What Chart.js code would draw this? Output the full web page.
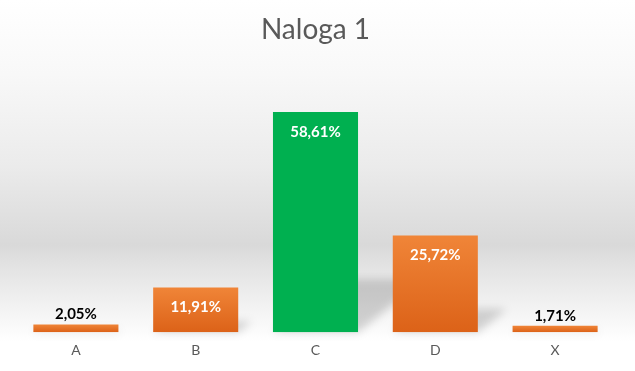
<!DOCTYPE html>
<html>
<head>
<meta charset="utf-8">
<script src="https://cdn.jsdelivr.net/npm/chart.js@4/dist/chart.umd.min.js"></script>
<style>
html,body{margin:0;padding:0;background:#fff;}
#wrap{width:635px;height:371px;position:relative;}
</style>
</head>
<body>
<div id="wrap"><canvas id="c" width="635" height="371"></canvas></div>
<script>
const chartTitle = "Naloga 1";
const categories = ["A", "B", "C", "D", "X"];
const values = [2.05, 11.91, 58.61, 25.72, 1.71];
const highlightIndex = 2;

const bgPlugin = {
  id: 'bg',
  beforeDraw(chart) {
    const ctx = chart.ctx, w = chart.width, h = chart.height;
    const g = ctx.createLinearGradient(0, 0, 0, h);
    g.addColorStop(0, '#ffffff');
    g.addColorStop(0.2, '#f8f8f8');
    g.addColorStop(0.45, '#ebebeb');
    g.addColorStop(0.66, '#d9d9d9');
    g.addColorStop(0.72, '#e3e3e3');
    g.addColorStop(0.84, '#f4f4f4');
    g.addColorStop(0.92, '#ffffff');
    g.addColorStop(1, '#ffffff');
    ctx.save();
    ctx.fillStyle = g;
    ctx.fillRect(0, 0, w, h);
    ctx.restore();
  }
};

const shadowPlugin = {
  id: 'barShadow',
  beforeDatasetsDraw(chart) {
    const ctx = chart.ctx;
    const meta = chart.getDatasetMeta(0);
    ctx.save();
    ctx.filter = 'blur(4px)';
    meta.data.forEach(el => {
      const p = el.getProps(['x', 'y', 'base', 'width'], true);
      const h = p.base - p.y;
      const xl = p.x - p.width / 2, xr = p.x + p.width / 2;
      const dx = h * 0.3, dy = h * 0.24;
      ctx.fillStyle = 'rgba(0,0,0,0.16)';
      ctx.beginPath();
      ctx.moveTo(xl, p.base);
      ctx.lineTo(xr, p.base);
      ctx.lineTo(xr + dx, p.base - dy);
      ctx.lineTo(xl + dx, p.base - dy);
      ctx.closePath();
      ctx.fill();
    });
    ctx.restore();
  }
};

const labelPlugin = {
  id: 'valueLabels',
  afterDatasetsDraw(chart) {
    const ctx = chart.ctx;
    const meta = chart.getDatasetMeta(0);
    ctx.save();
    ctx.font = 'bold 15px Lato, "Open Sans", sans-serif';
    ctx.textAlign = 'center';
    ctx.textBaseline = 'middle';
    meta.data.forEach((el, i) => {
      const p = el.getProps(['x', 'y', 'base'], true);
      const txt = values[i].toFixed(2).replace('.', ',') + '%';
      const h = p.base - p.y;
      if (h > 30) {
        ctx.fillStyle = '#ffffff';
        ctx.fillText(txt, p.x, p.y + 20);
      } else {
        ctx.fillStyle = '#000000';
        ctx.fillText(txt, p.x, p.y - 10);
      }
    });
    ctx.restore();
  }
};

function barColor(context) {
  const chart = context.chart;
  const i = context.dataIndex;
  if (i === highlightIndex) return '#00b050';
  const area = chart.chartArea;
  if (!area) return '#ed7d31';
  const yscale = chart.scales.y;
  const top = yscale.getPixelForValue(values[i]);
  const base = yscale.getPixelForValue(0);
  if (!isFinite(top) || !isFinite(base) || top === base) return '#ed7d31';
  const g = chart.ctx.createLinearGradient(0, top, 0, base);
  g.addColorStop(0, '#f08538');
  g.addColorStop(1, '#dc6218');
  return g;
}

new Chart(document.getElementById('c'), {
  type: 'bar',
  data: {
    labels: categories,
    datasets: [{
      data: values,
      backgroundColor: barColor,
      borderWidth: 0,
      barPercentage: 0.71,
      categoryPercentage: 1
    }]
  },
  options: {
    responsive: false,
    animation: false,
    devicePixelRatio: 1,
    layout: { padding: { left: 16, right: 20, top: 0, bottom: 2 } },
    plugins: {
      legend: { display: false },
      tooltip: { enabled: false },
      title: {
        display: true,
        text: chartTitle,
        color: '#595959',
        font: { family: 'Lato, "Open Sans", sans-serif', size: 28, weight: 'normal' },
        padding: { top: 13, bottom: 22.6 }
      }
    },
    scales: {
      x: {
        grid: { display: false, drawTicks: false },
        border: { display: false },
        ticks: {
          color: '#595959',
          padding: 10,
          font: { family: 'Lato, "Open Sans", sans-serif', size: 14 }
        }
      },
      y: {
        display: false,
        min: 0,
        max: 70
      }
    }
  },
  plugins: [bgPlugin, shadowPlugin, labelPlugin]
});
</script>
</body>
</html>
